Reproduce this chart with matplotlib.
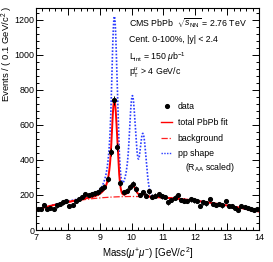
import numpy as np
import matplotlib
matplotlib.use("Agg")
import matplotlib.pyplot as plt
from matplotlib.lines import Line2D

plt.rcParams['font.family'] = ['Liberation Sans', 'DejaVu Sans']
plt.rcParams['mathtext.fontset'] = 'custom'
plt.rcParams['mathtext.rm'] = 'Liberation Sans'
plt.rcParams['mathtext.it'] = 'Liberation Sans:italic'
plt.rcParams['mathtext.bf'] = 'Liberation Sans:bold'

# ---- data (events per 0.1 GeV/c^2 bin) ----
bin_centers = [7.05 + 0.1 * i for i in range(70)]
counts = [118, 122, 145, 120, 128, 120, 140, 150, 158, 165,
          135, 145, 165, 178, 188, 205, 200, 205, 210, 215,
          235, 245, 290, 445, 740, 475, 268, 215, 225, 245,
          262, 235, 200, 215, 195, 222, 190, 195, 205, 192,
          188, 158, 172, 185, 200, 172, 168, 165, 175, 170,
          165, 135, 158, 152, 175, 148, 142, 150, 140, 165,
          135, 138, 128, 115, 135, 130, 125, 118, 112, 120]

# background shape (read at integer masses)
bkg_mass = [7, 8, 9, 10, 11, 12, 13, 14]
bkg_level = [118, 152, 182, 197, 188, 165, 136, 108]

# Upsilon peaks (1S, 2S, 3S)
ups_mass = [9.46, 10.023, 10.355]
ups_sigma = [0.088, 0.095, 0.10]
pbpb_amp = [550, 65, 15]
pp_amp = [1010, 540, 360]
cb_alpha = 1.1
cb_n = 2.5


def crystal_ball(m, mu, sig, alpha, n):
    t = (m - mu) / sig
    A = (n / alpha) ** n * np.exp(-alpha ** 2 / 2)
    B = n / alpha - alpha
    tail = A * np.power(np.clip(B - t, 1e-9, None), -n)
    return np.where(t > -alpha, np.exp(-t ** 2 / 2), tail)


m = np.linspace(7, 14, 1400)
coef = np.polyfit(bkg_mass, bkg_level, 3)
bkg = np.polyval(coef, m)
fit = bkg.copy()
pp = bkg.copy()
for mu, s, a1, a2 in zip(ups_mass, ups_sigma, pbpb_amp, pp_amp):
    shape = crystal_ball(m, mu, s, cb_alpha, cb_n)
    fit += a1 * shape
    pp += a2 * shape

fig = plt.figure(figsize=(2.73, 2.62), dpi=100)
ax = fig.add_axes([36 / 273, 1 - 230 / 262, 223 / 273, 222 / 262])

ax.plot(m, pp, color='#2a3cff', ls=(0, (1, 1)), lw=1.2, zorder=2)
ax.plot(m, bkg, color='#ff2020', ls=(0, (5, 1.5, 1, 1.5)), lw=0.9, zorder=3)
ax.plot(m, fit, color='#ff0000', lw=1.4, zorder=4)
ax.errorbar(bin_centers, counts, yerr=np.sqrt(counts), fmt='o', color='black',
            ms=2.7, elinewidth=0.7, capsize=0, zorder=5)

ax.set_xlim(7, 14)
ax.set_ylim(0, 1268)
ax.set_xticks(np.arange(7, 14.01, 1))
ax.set_xticks(np.arange(7, 14.01, 0.2), minor=True)
ax.set_yticks(np.arange(0, 1201, 200))
ax.set_yticks(np.arange(0, 1268, 40), minor=True)
ax.tick_params(which='both', direction='in', top=True, right=True,
               labelsize=6.4, width=0.7)
ax.tick_params(which='major', length=5)
ax.tick_params(which='minor', length=2.5)
ax.tick_params(axis='x', pad=2.5)
ax.tick_params(axis='y', pad=1.2)
for sp in ax.spines.values():
    sp.set_linewidth(0.8)

fig.text(7 / 273, 1 - 6 / 262, r'Events / ( 0.1 GeV/c$^{2}$ )', rotation=90,
         ha='center', va='top', fontsize=6.8)
fig.text(148 / 273, 1 - 253 / 262, r'Mass($\mu^{+}\mu^{-}$) [GeV/$c^{2}$]',
         ha='center', va='center', fontsize=7)

fs = 6.3
fig.text(129 / 273, 1 - 23 / 262, r'CMS PbPb  $\sqrt{s_{\rm NN}}$ = 2.76 TeV',
         ha='left', va='center', fontsize=fs)
fig.text(129 / 273, 1 - 40 / 262, 'Cent. 0-100%, |y| < 2.4',
         ha='left', va='center', fontsize=fs)
fig.text(129 / 273, 1 - 57 / 262, r'L$_{\rm int}$ = 150 $\mu$b$^{-1}$',
         ha='left', va='center', fontsize=fs)
fig.text(129 / 273, 1 - 73 / 262, r'p$_{\rm T}^{\mu}$ > 4 GeV/c',
         ha='left', va='center', fontsize=fs)

handles = [Line2D([], [], color='black', marker='o', ls='none', ms=2.7),
           Line2D([], [], color='#ff0000', lw=1.0),
           Line2D([], [], color='#ff2020', ls=(0, (5, 1.5, 1, 1.5)), lw=0.9),
           Line2D([], [], color='#2a3cff', ls=(0, (1, 1)), lw=1.0)]
labels = ['data', 'total PbPb fit', 'background', 'pp shape']
ax.legend(handles, labels, loc='upper left',
          bbox_to_anchor=(161 / 273, 1 - 102 / 262), bbox_transform=fig.transFigure,
          frameon=False, fontsize=fs, handlelength=1.3, handletextpad=0.6,
          labelspacing=0.78, borderpad=0, borderaxespad=0)
fig.text(185 / 273, 1 - 168 / 262, r'(R$_{\rm AA}$ scaled)',
         ha='left', va='center', fontsize=fs)

fig.savefig('out.png', dpi=100)
